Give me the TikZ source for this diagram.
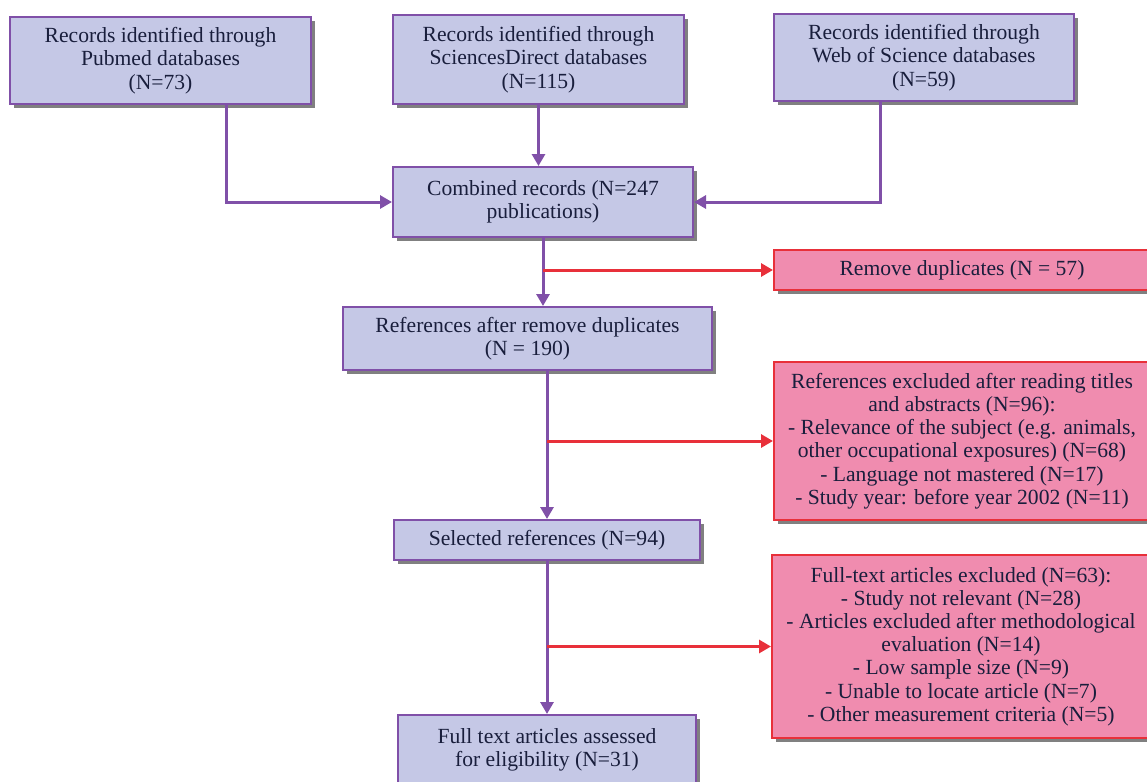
\documentclass[tikz,border=0pt]{standalone}
\usepackage{fontspec}
\setmainfont{Liberation Serif}
\usetikzlibrary{arrows.meta,shadows}
\definecolor{boxfill}{RGB}{197,200,230}
\definecolor{boxline}{RGB}{128,80,168}
\definecolor{exclfill}{RGB}{240,140,175}
\definecolor{exclline}{RGB}{232,48,58}
\definecolor{textnavy}{RGB}{25,30,60}
\tikzset{
    record-box/.style = {draw=boxline, fill=boxfill, line width=1pt, rectangle, align=center, text=textnavy,
        font=\fontsize{10.8}{11.6}\selectfont, inner sep=2pt,
        drop shadow={shadow xshift=2pt, shadow yshift=-2pt, fill=black!50, opacity=1}},
    exclude-box/.style = {record-box, draw=exclline, fill=exclfill},
    flow-line/.style = {draw=boxline, line width=1.5pt, -{Triangle[length=6pt,width=6.5pt]}},
    exclude-line/.style = {flow-line, draw=exclline},
}
\begin{document}
\begin{tikzpicture}[x=0.5pt, y=-0.5pt]
\useasboundingbox (0,0) rectangle (1147,782);
% databases
\node[record-box, minimum width=150.5pt, minimum height=43.5pt] (pubmed) at (160.5,60.5)
    {Records identified through\\Pubmed databases\\(N=73)};
\node[record-box, minimum width=145.5pt, minimum height=44.5pt] (scidirect) at (538.5,59.5)
    {Records identified through\\SciencesDirect databases\\(N=115)};
\node[record-box, minimum width=150pt, minimum height=43.5pt] (wos) at (924,57.5)
    {Records identified through\\Web of Science databases\\(N=59)};
% main flow
\node[record-box, minimum width=150pt, minimum height=35pt] (combined) at (543,202)
    {Combined records (N=247\\publications)};
\node[record-box, minimum width=184.5pt, minimum height=31.5pt] (refafter) at (527.5,338.5)
    {References after remove duplicates\\(N = 190)};
\node[record-box, minimum width=153pt, minimum height=20pt] (selected) at (547,540)
    {Selected references (N=94)};
\node[record-box, minimum width=149pt, minimum height=35pt] (assessed) at (547,750)
    {Full text articles assessed\\for eligibility (N=31)};
% exclusions
\node[exclude-box, minimum width=188pt, minimum height=20pt] (remdup) at (962,270)
    {Remove duplicates (N = 57)};
\node[exclude-box, minimum width=188pt, minimum height=79pt] (exclabs) at (962,441)
    {References excluded after reading titles\\and abstracts (N=96):\\- Relevance of the subject (e.g. animals,\\other occupational exposures) (N=68)\\- Language not mastered (N=17)\\- Study year: before year 2002 (N=11)};
\node[exclude-box, minimum width=189pt, minimum height=91.5pt] (exclfull) at (961,646.5)
    {Full-text articles excluded (N=63):\\- Study not relevant (N=28)\\- Articles excluded after methodological\\evaluation (N=14)\\- Low sample size (N=9)\\- Unable to locate article (N=7)\\- Other measurement criteria (N=5)};
% connectors
\draw[flow-line] ([xshift=33pt]pubmed.south) |- (combined.west);
\draw[flow-line] (scidirect.south) -- (scidirect.south |- combined.north);
\draw[flow-line] ([xshift=-22pt]wos.south) |- (combined.east);
\draw[flow-line] (combined.south) -- (combined.south |- refafter.north);
\draw[flow-line] (selected.north |- refafter.south) -- (selected.north);
\draw[flow-line] (selected.south) -- (assessed.north);
\draw[exclude-line] (combined.south |- remdup.west) -- (remdup.west);
\draw[exclude-line] (selected.north |- exclabs.west) -- (exclabs.west);
\draw[exclude-line] (selected.south |- exclfull.west) -- (exclfull.west);
\end{tikzpicture}
\end{document}
